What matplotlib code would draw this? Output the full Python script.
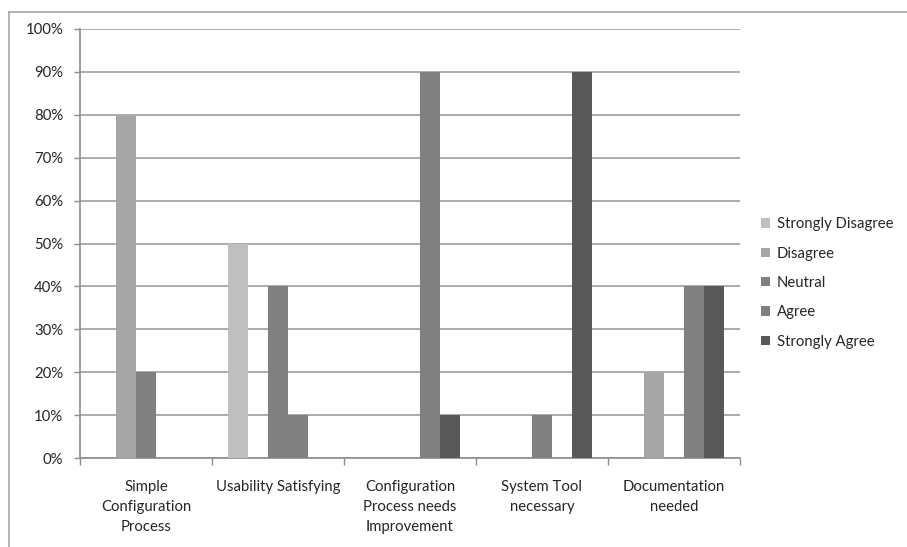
import matplotlib
matplotlib.use("Agg")
import matplotlib.pyplot as plt
from matplotlib.lines import Line2D
from matplotlib.patches import Patch
import numpy as np

plt.rcParams['font.family'] = ['Lato', 'DejaVu Sans']

categories = [
    "Simple\nConfiguration\nProcess",
    "Usability Satisfying",
    "Configuration\nProcess needs\nImprovement",
    "System Tool\nnecessary",
    "Documentation\nneeded",
]
series_names = ["Strongly Disagree", "Disagree", "Neutral", "Agree", "Strongly Agree"]
strongly_disagree = [0, 50, 0, 0, 0]
disagree = [80, 0, 0, 0, 20]
neutral = [20, 40, 0, 10, 0]
agree = [0, 10, 90, 0, 40]
strongly_agree = [0, 0, 10, 90, 40]
series_values = [strongly_disagree, disagree, neutral, agree, strongly_agree]
colors = ["#bfbfbf", "#a6a6a6", "#808080", "#808080", "#595959"]
y_ticks = [0, 10, 20, 30, 40, 50, 60, 70, 80, 90, 100]
y_tick_labels = [f"{v}%" for v in y_ticks]

W, H = 907, 547
fig = plt.figure(figsize=(W / 100, H / 100), dpi=100)
ax = fig.add_axes([80 / W, 1 - 458 / H, 660 / W, (458 - 29) / H])

text_color = "#262626"
grid_color = "#a6a6a6"
axis_color = "#8c8c8c"
fs = 10.7

x = np.arange(len(categories))
bar_w = 20 / 132
for i, (vals, col) in enumerate(zip(series_values, colors)):
    ax.bar(x + (i - 2) * bar_w, vals, width=bar_w, color=col,
           linewidth=0, zorder=3)

ax.set_xlim(-0.5, len(categories) - 0.5)
ax.set_ylim(0, 100)

ax.set_yticks(y_ticks)
ax.set_yticklabels(y_tick_labels, fontsize=fs, color=text_color)
ax.tick_params(axis='y', length=4, width=1, color=axis_color, pad=8)
ax.yaxis.grid(True, color=grid_color, linewidth=1.3, zorder=0)
ax.set_axisbelow(True)

ax.set_xticks(x)
ax.set_xticklabels(categories, fontsize=fs, color=text_color,
                   linespacing=1.57, va='top')
ax.tick_params(axis='x', which='major', length=0, pad=15.5)
ax.set_xticks(np.arange(len(categories) + 1) - 0.5, minor=True)
ax.tick_params(axis='x', which='minor', length=5, width=1, color=axis_color)

for side in ("top", "right"):
    ax.spines[side].set_visible(False)
for side in ("left", "bottom"):
    ax.spines[side].set_color(axis_color)
    ax.spines[side].set_linewidth(1.2)

handles = [Patch(facecolor=c, edgecolor='none') for c in colors]
fig.legend(handles, series_names, loc='center left',
           bbox_to_anchor=(748 / W, 1 - 283 / H), frameon=False,
           fontsize=fs, handlelength=0.6, handleheight=0.6,
           handletextpad=0.45, labelspacing=1.03, labelcolor=text_color)

# outer chart frame
fig.add_artist(Line2D([9 / W, 9 / W], [0, 1 - 12 / H], transform=fig.transFigure,
                      color="#a6a6a6", linewidth=1.2))
fig.add_artist(Line2D([9 / W, 1], [1 - 12 / H, 1 - 12 / H], transform=fig.transFigure,
                      color="#a6a6a6", linewidth=1.2))

fig.savefig("out.png", dpi=100, facecolor="white")
